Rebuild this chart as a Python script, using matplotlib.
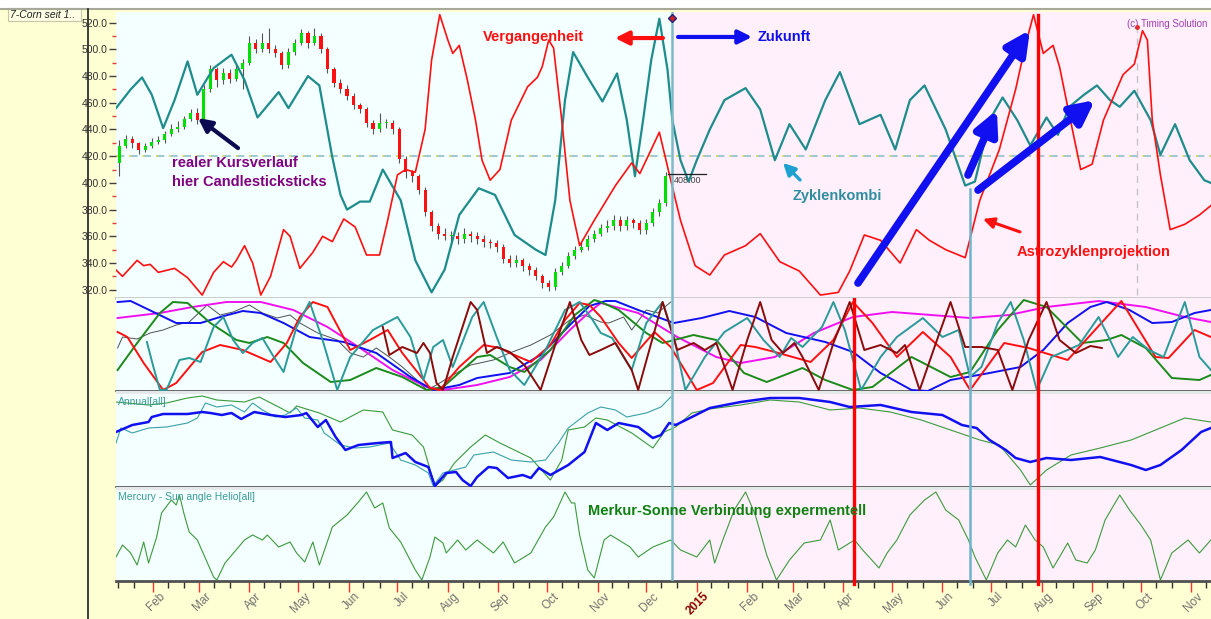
import matplotlib
matplotlib.use('Agg')
import matplotlib.pyplot as plt
import numpy as np
from datetime import date
from matplotlib.patches import Rectangle
from matplotlib.lines import Line2D

plt.rcParams['font.family'] = ['Liberation Sans', 'DejaVu Sans']

# ---------------- data (x = days since 2014-01-01) ----------------
candle_start, candle_step = 10, 4
closes = [428,433,430,425,428,431,432,437,440,442,448,452,447,470,485,477,482,478,485,490,
          505,500,505,500,497,488,498,505,512,505,510,500,485,475,470,465,458,455,445,440,
          445,445,440,418,408,405,395,378,368,362,360,360,358,362,360,358,356,355,352,343,
          340,342,338,335,330,325,322,333,338,345,350,352,358,362,366,368,372,368,372,370,
          365,370,378,385,405]
first_open = 415
highs = [432,436,435,431,430,434,435,439,444,446,450,455,456,473,488,487,486,485,488,493,
         510,508,512,516,503,499,501,508,515,514,516,512,502,487,478,473,467,460,457,447,
         452,448,447,442,420,410,407,397,380,370,366,364,363,366,364,363,361,358,357,354,
         346,346,344,340,337,332,327,336,341,348,353,356,361,365,369,372,376,375,375,374,
         372,373,381,388,408]
lows = [405,426,426,422,423,426,429,430,435,438,440,446,444,446,468,472,474,475,476,470,
        488,497,498,497,494,485,486,496,503,501,503,497,482,472,467,462,455,452,442,437,
        438,441,437,415,404,401,392,375,364,358,357,356,354,355,356,354,352,351,348,340,
        337,337,334,331,327,321,319,320,331,336,343,348,350,356,360,363,365,364,365,366,
        362,362,368,375,383]

zyk_days = [8,17,24,30,37,44,52,58,68,79,87,95,108,114,126,133,141,146,150,158,164,172,183,192,202,210,219,231,241,253,
            266,272,278,284,289,298,307,316,322,327,332,337,342,347,350,355,360,365,373,382,395,404,413,422,432,444,453,465,478,487,
            496,505,518,530,536,545,553,562,570,580,587,594,603,611,619,625,634,644,650,659,668,677,681]
zyk_vals = [456,470,479,466,441,462,491,466,486,496,477,449,468,456,480,473,419,391,380,386,386,410,387,342,318,335,376,396,391,361,
            350,346,387,462,498,479,461,482,447,405,447,492,523,485,447,417,401,417,440,462,471,455,417,444,425,462,483,444,451,425,
            462,473,440,398,401,447,464,447,428,449,436,457,466,473,462,457,469,447,421,444,417,402,400]

astro_days = [7,12,21,25,29,34,44,52,61,68,74,79,82,87,92,97,103,111,115,121,129,135,141,148,155,162,170,175,181,186,
              192,198,202,207,212,215,219,224,229,233,238,244,251,261,267,270,274,277,282,287,293,302,315,325,330,337,342,349,355,364,
              373,382,395,404,416,428,441,452,459,468,478,490,500,508,518,530,539,551,561,567,572,578,584,588,593,601,608,615,627,634,
              639,642,645,650,656,665,674,681]
astro_vals = [336,330,342,338,339,333,336,329,316,333,341,337,342,353,340,316,330,365,360,336,348,360,356,373,367,346,346,372,406,410,
              408,440,492,526,507,497,503,477,447,417,402,410,447,472,479,487,507,501,447,387,353,372,398,415,407,425,438,402,372,338,
              331,346,353,362,341,334,316,318,334,361,357,340,365,357,350,344,387,425,470,503,526,497,503,487,457,410,414,447,481,489,
              514,507,447,406,365,369,376,383]

blue2_days = [9,17,31,45,60,72,86,97,111,127,148,168,189,203,219,230,250,269,287,299,309,315,329,351,368,385,401,420,444,461,
              478,497,507,521,545,564,578,593,607,617,631,645,657,671,681]
blue2_vals = [89,90,79,68,68,74,80,78,68,54,49,38,14,1,6,13,18,36,66,85,90,90,81,68,73,80,74,58,49,39,
              18,1,0,11,18,24,41,68,84,89,81,68,69,78,81]

mag_days = [9,35,55,76,97,117,138,158,178,199,209,230,250,269,287,299,306,329,353,377,392,413,437,461,485,509,533,557,580,612,641,665,681]
mag_vals = [73,78,84,89,89,81,64,43,21,4,1,6,14,31,61,79,88,78,54,34,28,34,58,74,79,76,73,76,84,90,84,74,69]

grn_days = [9,21,35,43,52,66,82,90,101,111,123,140,152,168,184,199,209,230,238,250,259,275,290,302,306,317,334,344,363,377,
            394,408,430,444,461,473,497,521,533,550,566,580,602,617,626,641,657,674,681]
grn_vals = [21,48,78,89,88,68,51,48,54,48,28,9,11,23,14,1,4,34,36,24,19,41,76,91,89,81,58,48,56,51,
            18,9,23,11,1,4,34,14,19,61,91,84,48,51,56,43,13,11,16]

red2_days = [9,15,25,37,45,61,72,86,103,113,121,129,138,152,164,175,184,201,207,219,234,244,250,263,275,284,293,299,306,317,
             325,339,349,365,375,392,401,413,435,449,461,473,488,504,521,533,554,569,593,626,647,655,671,681]
red2_vals = [59,54,28,1,8,39,46,41,29,48,74,89,84,41,51,61,38,3,1,24,46,43,38,29,46,71,88,86,74,48,
             33,59,44,1,8,46,44,39,29,51,89,68,34,59,34,1,48,43,31,90,34,33,61,54]

teal2_days = [27,31,35,39,47,53,60,68,74,80,86,92,98,105,111,119,127,135,144,152,166,181,189,197,203,209,215,227,234,242,
              250,259,272,284,293,301,306,313,320,325,334,344,351,358,370,382,396,406,416,423,430,442,449,456,466,478,488,504,516,526,
              533,540,550,558,566,574,583,600,612,619,624,633,643,652,665,674,681]
teal2_vals = [49,24,1,1,31,33,29,64,74,51,38,48,53,34,19,64,89,51,1,34,61,74,54,11,44,51,24,74,89,54,
              21,6,41,81,89,71,58,53,34,21,68,89,54,1,34,59,73,51,34,53,44,64,89,61,1,34,54,73,54,61,
              14,24,68,89,51,1,34,46,74,51,34,54,41,34,89,34,21]

brown_days = [172,176,184,193,197,201,205,209,215,226,230,236,242,250,259,269,278,287,294,299,306,315,325,329,337,344,353,363,370,377,
              387,396,404,411,418,425,430,440,449,459,468,478,488,493,502,512,521,530,540,550,559,569,580,588,598,607,614]
brown_vals = [64,36,44,38,48,38,8,1,34,89,81,38,44,39,26,1,46,89,51,36,41,48,21,1,48,89,41,48,41,48,
              1,51,89,51,38,48,34,1,48,89,41,46,38,46,1,48,89,44,44,41,1,51,89,51,38,45,43]

grey_days = [9,12,21,29,37,45,53,64,72,80,90,98,107,115,121,132,144,152,160,168,176,184,193,199,205,213,226,240,250,263,
             275,287,296,306,311,320,325,334,341,349]
grey_vals = [43,54,52,58,61,66,69,86,76,79,86,78,73,76,68,58,51,38,34,43,34,24,11,1,6,14,26,31,38,46,
             56,71,76,69,68,74,61,81,78,89]

ann_blue_days = [8,18,28,30,37,52,61,66,73,79,85,93,103,112,122,125,132,137,143,149,157,169,177,178,186,192,200,204,211,217,
                 221,226,230,237,242,249,258,263,268,275,286,296,303,310,317,329,338,343,348,352,362,373,392,410,428,447,459,478,497,516,
                 528,537,545,555,561,570,580,595,613,632,641,650,663,675,681]
ann_blue_vals = [55,62,65,70,73,73,75,74,72,74,68,75,72,70,72,74,60,67,50,37,42,44,45,29,34,25,20,1,14,15,
                 7,1,10,20,19,9,12,9,19,12,22,35,64,57,64,60,49,52,64,62,70,79,85,89,89,85,80,82,75,72,
                 62,59,47,37,29,25,29,27,30,22,17,22,37,55,59]

ann_teal_days = [8,11,18,28,39,52,58,63,70,79,87,92,98,106,112,119,124,132,136,146,155,164,176,183,192,200,203,209,216,223,
                 228,240,251,263,272,280,286,298,306,315,322,334,343,349]
ann_teal_vals = [44,59,54,59,60,64,69,84,80,82,75,84,77,70,72,79,69,67,54,42,39,40,44,27,22,14,1,14,17,20,
                 32,35,27,25,27,44,59,74,80,77,70,74,80,90]

ann_grn_days = [8,28,39,52,61,70,87,96,108,115,119,133,146,160,172,178,190,197,204,209,216,226,235,244,263,275,282,286,296,303,
                310,325,338,345,352,362,373,392,410,428,447,465,484,503,521,539,551,564,570,580,595,613,632,650,665,681]
ann_grn_vals = [85,82,84,89,91,87,85,90,80,74,81,74,65,77,75,57,52,40,1,7,24,40,52,44,29,7,27,57,60,69,
                67,54,39,55,60,74,78,82,87,85,77,79,75,67,57,47,42,17,2,17,32,39,47,59,69,65]

merc_days = [8,12,17,21,25,28,33,36,42,45,47,50,53,58,68,70,75,87,92,98,101,108,115,119,124,129,133,141,150,157,
             162,167,172,176,183,192,196,201,204,209,211,218,223,230,240,246,253,263,272,277,284,288,290,293,298,302,308,312,320,324,
             329,338,349,355,365,373,376,381,388,395,401,408,414,422,431,441,447,452,457,462,467,477,482,488,496,505,512,518,526,532,
             536,543,550,556,561,567,573,578,584,593,598,605,610,616,625,631,638,644,650,657,667,674,681]
merc_vals = [24,36,28,16,39,18,44,68,81,76,86,66,49,41,4,1,18,41,46,41,46,34,39,28,19,39,16,54,66,79,
             89,73,78,53,39,11,1,24,44,38,28,41,31,41,28,39,18,28,54,64,89,78,78,46,11,3,41,46,38,34,
             24,34,41,31,24,41,18,41,71,89,66,26,1,21,38,41,61,31,36,41,31,13,28,41,66,81,89,71,61,41,
             24,1,28,41,34,56,41,34,13,38,21,18,31,61,86,71,56,41,1,28,41,28,41]

y_ticks = [320, 340, 360, 380, 400, 420, 440, 460, 480, 500, 520]
month_labels = ['Feb','Mar','Apr','May','Jun','Jul','Aug','Sep','Oct','Nov','Dec','2015',
                'Feb','Mar','Apr','May','Jun','Jul','Aug','Sep','Oct','Nov']
last_price = 408.0
today = 349.8
ref_price = 420
marker_days = {'red1': 461.6, 'cyan2': 533.0, 'red2': 574.8, 'grey': 635.6}

# ---------------- figure ----------------
W, H = 1211, 619
fig = plt.figure(figsize=(W / 100, H / 100), dpi=100, facecolor='#FFFFD4')
X0, X1 = 8.0, 681.1


def add_ax(top, bot):
    return fig.add_axes([116 / W, 1 - bot / H, (W - 116) / W, (bot - top) / H])


ax1 = add_ax(12, 298)
ax2 = add_ax(298, 391)
ax3 = add_ax(391, 487)
ax4 = add_ax(487, 581)
axes = [ax1, ax2, ax3, ax4]
for ax in axes:
    ax.set_xlim(X0, X1)
    ax.set_facecolor('#F4FFFF')
    ax.axvspan(today, X1, color='#FFF0FC', lw=0, zorder=0)
    for s in ax.spines.values():
        s.set_visible(False)
    ax.tick_params(left=False, bottom=False, labelleft=False, labelbottom=False)
    ax.axvline(today, color='#7DB9C9', lw=1.8, zorder=6)

ax1.set_ylim(313.8, 528)
ax2.set_ylim(0, 93)
ax3.set_ylim(0, 96)
ax4.set_ylim(0, 94)

# separators
ax1.spines['bottom'].set_visible(True)
ax1.spines['bottom'].set_color('#C8C8C8')
ax1.spines['bottom'].set_linewidth(2)
for ax in (ax2, ax3):
    ax.spines['bottom'].set_visible(True)
    ax.spines['bottom'].set_color('#505050')
    ax.spines['bottom'].set_linewidth(1.2)
ax4.spines['bottom'].set_visible(True)
ax4.spines['bottom'].set_color('#505050')
ax4.spines['bottom'].set_linewidth(2)
for ax in (ax3, ax4):
    ax.axhspan(ax.get_ylim()[1] * 0.965, ax.get_ylim()[1], color='#E4E8E8', lw=0, zorder=0.5)

# ---------------- main panel ----------------
ax1.set_yticks(y_ticks)
ax1.set_yticklabels(['%.1f' % v for v in y_ticks])
ax1.set_yticks([v + 10 for v in y_ticks[:-1]], minor=True)
ax1.tick_params(axis='y', which='major', left=True, labelleft=True, length=5, width=1,
                color='#404040', labelsize=7.5, labelcolor='#303030', pad=1)
ax1.tick_params(axis='y', which='minor', left=True, length=3, width=1, color='#E04040')

ax1.axhline(ref_price, color='#8FC0CC', lw=1.2, dashes=(5, 3), zorder=1)
ax1.axhline(ref_price, color='#E6E040', lw=1.2, dashes=(1, 7), zorder=1)

cdays = np.arange(candle_start, candle_start + candle_step * len(closes), candle_step)
opens = [first_open] + closes[:-1]
ax1.vlines(cdays, lows, highs, color='#555555', lw=0.8, zorder=2)
cols = ['#00E000' if c >= o else '#FF1010' for o, c in zip(opens, closes)]
hts = [c - o if c != o else 0.8 for o, c in zip(opens, closes)]
ax1.bar(cdays, hts, bottom=opens, width=1.9, color=cols, lw=0, zorder=3)

ax1.plot(zyk_days, zyk_vals, color='#1E8C8C', lw=1.6, zorder=4, solid_joinstyle='round')
ax1.plot(astro_days, astro_vals, color='#FF1010', lw=1.2, zorder=4, solid_joinstyle='round')

ax1.plot([today - 2.5, today + 21], [last_price - 1, last_price - 1], color='#202020', lw=0.9, zorder=7)
ax1.text(today + 1, last_price - 3, '408.00', fontsize=6.5, color='#404040', va='top', zorder=7)
ax1.plot(today, 523.5, marker='D', ms=4, mfc='#CC2020', mec='#202080', zorder=8)

ax1.axvline(marker_days['red2'], ymin=0, ymax=0.99, color='#FF0000', lw=2.4, zorder=5)
ax1.axvline(marker_days['cyan2'], ymin=0, ymax=0.38, color='#6FB4CC', lw=1.8, zorder=5)
ax1.axvline(marker_days['grey'], ymin=0.01, ymax=0.95, color='#C4C4C4', lw=1, dashes=(5, 4), zorder=2)
ax1.plot(marker_days['grey'], 516.5, marker='o', ms=2.5, color='#E03030', zorder=5)

ax1.text(0.9965, 0.975, '(c) Timing Solution', transform=ax1.transAxes, ha='right', va='top',
         fontsize=7, color='#A040B0')


def arrow(ax, tail, head, color, lw, ms, hw=0.4, hl=0.8):
    ax.annotate('', xy=head, xytext=tail, zorder=9,
                arrowprops=dict(arrowstyle='-|>,head_width=%g,head_length=%g' % (hw, hl),
                                color=color, lw=lw, mutation_scale=ms, shrinkA=0, shrinkB=0))


bold = dict(fontweight='bold', fontsize=10.5, zorder=10)
ax1.text(264.3, 509.3, 'Vergangenheit', color='#FF1010', ha='center', va='center', **bold)
arrow(ax1, (344.2, 508.5), (314.7, 508.5), '#FF1010', 3, 10)
arrow(ax1, (353.5, 509.3), (399.0, 509.3), '#1010EE', 3, 10)
ax1.text(402.5, 509.3, 'Zukunft', color='#1010EE', ha='left', va='center', **bold)
ax1.text(42.4, 414.9, 'realer Kursverlauf', color='#800080', ha='left', va='center', **bold)
ax1.text(42.4, 400.6, 'hier Candlesticksticks', color='#800080', ha='left', va='center', **bold)
arrow(ax1, (83.0, 426.1), (58.4, 448.6), '#0A0A50', 3, 10)
ax1.text(424.1, 390.0, 'Zyklenkombi', color='#2E8EA0', ha='left', va='center', **bold)
arrow(ax1, (428.5, 402.2), (418.0, 415.0), '#1EA0D0', 2.4, 9)
ax1.text(561.8, 348.3, 'Astrozyklenprojektion', color='#FF1010', ha='left', va='center', **bold)
arrow(ax1, (563.7, 363.3), (540.9, 373.0), '#FF1010', 2.2, 8)
arrow(ax1, (464.1, 325.0), (569.8, 514.5), '#1010F0', 5.5, 20, 0.35, 0.7)
arrow(ax1, (531.7, 405.9), (549.5, 454.6), '#1010F0', 5.5, 20, 0.35, 0.7)
arrow(ax1, (537.9, 394.6), (609.8, 462.0), '#1010F0', 5.5, 20, 0.35, 0.7)

# ---------------- cycles panel ----------------
lw2 = 1.4
ax2.plot(grey_days, grey_vals, color='#505050', lw=0.7, zorder=3)
ax2.plot(mag_days, mag_vals, color='#F010F0', lw=lw2, zorder=3)
ax2.plot(blue2_days, blue2_vals, color='#1010F0', lw=lw2, zorder=3)
ax2.plot(grn_days, grn_vals, color='#1A8A1A', lw=lw2, zorder=3)
ax2.plot(red2_days, red2_vals, color='#FF1010', lw=lw2, zorder=3)
ax2.plot(teal2_days, teal2_vals, color='#2A9A9A', lw=lw2, zorder=3)
ax2.plot(brown_days, brown_vals, color='#8B0A0A', lw=lw2, zorder=3)

# ---------------- annual panel ----------------
ax3.plot(ann_grn_days, ann_grn_vals, color='#3C9A3C', lw=0.8, zorder=3)
ax3.plot(ann_teal_days, ann_teal_vals, color='#3AA0A8', lw=0.8, zorder=3)
ax3.plot(ann_blue_days, ann_blue_vals, color='#1010F0', lw=1.8, zorder=4)
ax3.text(0.002, 0.89, 'Annual[all]', transform=ax3.transAxes, fontsize=7.5, color='#3A9A9A', va='center')

# ---------------- mercury panel ----------------
ax4.plot(merc_days, merc_vals, color='#3C9A3C', lw=0.8, zorder=3)
ax4.text(0.002, 0.89, 'Mercury - Sun angle Helio[all]', transform=ax4.transAxes, fontsize=7.5,
         color='#3A9A9A', va='center')
ax4.text(298.1, 70, 'Merkur-Sonne Verbindung expermentell', color='#108010', ha='left', va='center', **bold)

for ax in (ax2, ax3, ax4):
    ax.axvline(marker_days['red1'], color='#FF0000', lw=2.4, zorder=5)
    ax.axvline(marker_days['red2'], color='#FF0000', lw=2.4, zorder=5)
    ax.axvline(marker_days['cyan2'], color='#6FB4CC', lw=1.8, zorder=5)
for key, col, lw in (('red1', '#FF0000', 2.4), ('red2', '#FF0000', 2.4), ('cyan2', '#6FB4CC', 1.8)):
    ax4.axvline(marker_days[key], ymin=-0.03, ymax=0, color=col, lw=lw, zorder=5, clip_on=False)

# ---------------- x axis ----------------
base = date(2014, 1, 1)
month_starts, minor_days = [], []
y, m = 2014, 1
while (y, m) <= (2015, 11):
    d0 = (date(y, m, 1) - base).days
    if d0 > X0:
        month_starts.append(d0)
    for dd in (10, 20):
        dd_ = (date(y, m, dd) - base).days
        if X0 < dd_ < X1:
            minor_days.append(dd_)
    m += 1
    if m > 12:
        m, y = 1, y + 1

ax4.set_xticks(month_starts)
ax4.set_xticks(minor_days, minor=True)
ax4.tick_params(axis='x', which='major', bottom=True, length=8, width=1, color='#FF3030', direction='out')
ax4.tick_params(axis='x', which='minor', bottom=True, length=5, width=1, color='#303030', direction='out')
for d0, lab in zip(month_starts, month_labels):
    is_year = lab.isdigit()
    ax4.text(d0 + 3.5, -0.10, lab, transform=ax4.get_xaxis_transform(), rotation=45,
             rotation_mode='anchor', ha='right', va='top', fontsize=8.5,
             color='#8B0000' if is_year else '#707070', fontweight='bold' if is_year else 'normal')

# ---------------- frame decorations ----------------
fig.add_artist(Rectangle((0, 1 - 8 / H), 1, 8 / H, transform=fig.transFigure, facecolor='white',
                         edgecolor='none', zorder=0))
fig.add_artist(Line2D([0, 1], [1 - 8.5 / H, 1 - 8.5 / H], transform=fig.transFigure, color='#A8A898', lw=1.5))
fig.add_artist(Line2D([88 / W, 88 / W], [0, 1 - 9 / H], transform=fig.transFigure, color='#303030', lw=1.3,
                      zorder=20))
fig.add_artist(Rectangle((8 / W, 1 - 21 / H), 73 / W, 13 / H, transform=fig.transFigure,
                         facecolor='#FFFFE6', edgecolor='#C8C8A8', lw=0.8))
fig.text(10 / W, 1 - 14.5 / H, '7-Corn seit 1..', fontsize=7.5, style='italic', color='#202020', va='center')

fig.savefig('out.png', dpi=100, facecolor=fig.get_facecolor())
